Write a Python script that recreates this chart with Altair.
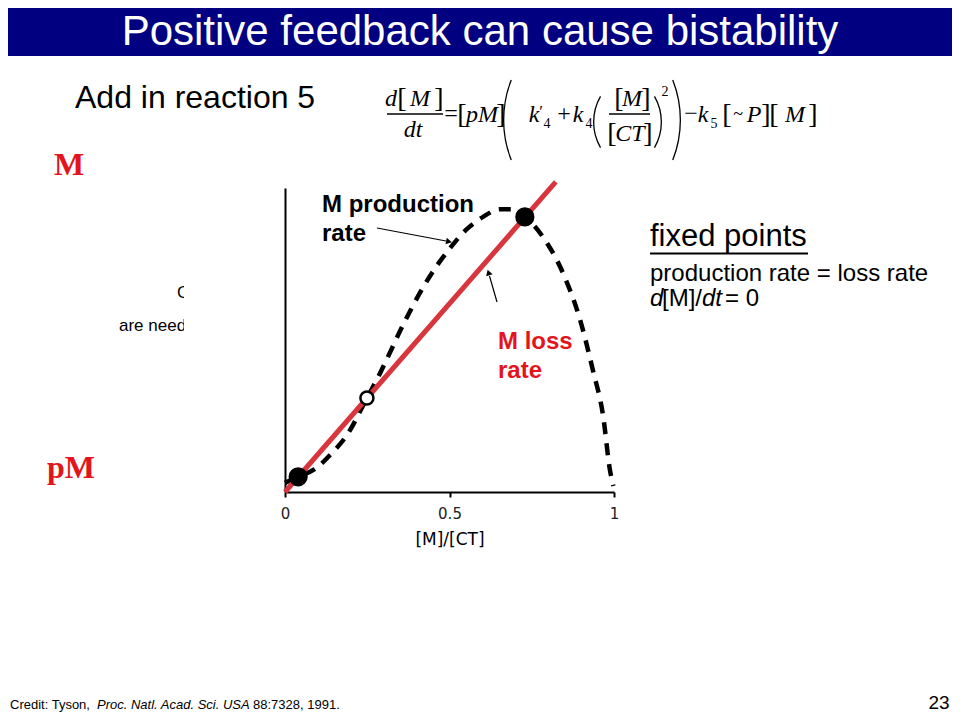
import math
import altair as alt
import pandas as pd

# ---------------- data ----------------
# M production rate (dashed curve), x = [M]/[CT]
prod_x = [0.0, 0.04, 0.09, 0.14, 0.19, 0.249, 0.289, 0.359, 0.41, 0.462, 0.5,
          0.55, 0.602, 0.653, 0.69, 0.729, 0.784, 0.845, 0.897, 0.936, 0.967,
          0.988, 0.998]
prod_y = [0.03, 0.05, 0.075, 0.125, 0.19, 0.309, 0.391, 0.55, 0.655, 0.745, 0.80,
          0.862, 0.905, 0.93, 0.93, 0.905, 0.839, 0.72, 0.566, 0.40, 0.25,
          0.07, 0.02]
# M loss rate (red straight line)
loss_x = [0.0, 0.823]
loss_y = [0.0, 1.02]
# fixed points
fp_x = [0.04, 0.249, 0.729]
fp_y = [0.05, 0.309, 0.905]
fp_kind = ["stable", "unstable", "stable"]
x_ticks = [0, 0.5, 1]

# ---------------- layout ----------------
W, H = 329, 304
OX, OY = 285, 188            # page position of the plot origin
PAD_L, PAD_T = OX - 8, OY - 8
TOTAL_W, TOTAL_H = 944, 705
RED_TXT = "#e3141b"
RED_LINE = "#d8353d"
one = pd.DataFrame({"k": [0]})


def txt(text, px, py, size, color="black", font="Liberation Sans", weight="normal",
        style="normal", align="left", baseline="alphabetic"):
    return alt.Chart(one).mark_text(
        text=text, fontSize=size, font=font, fontWeight=weight, fontStyle=style,
        color=color, align=align, baseline=baseline
    ).encode(x=alt.value(px - OX), y=alt.value(py - OY))


def hline(x1, x2, y, width=1.5, color="black"):
    return alt.Chart(one).mark_rule(color=color, strokeWidth=width).encode(
        x=alt.value(x1 - OX), x2=alt.value(x2 - OX), y=alt.value(y - OY))


def seg(x1, y1, x2, y2, width=1.2, color="black"):
    return alt.Chart(one).mark_rule(color=color, strokeWidth=width).encode(
        x=alt.value(x1 - OX), x2=alt.value(x2 - OX),
        y=alt.value(y1 - OY), y2=alt.value(y2 - OY))


def head(px, py, shape, angle, size=45):
    return alt.Chart(one).mark_point(shape=shape, filled=True, size=size, angle=angle,
                                     color="black", opacity=1).encode(
        x=alt.value(px - OX), y=alt.value(py - OY))


def rect(x1, y1, x2, y2, color):
    return alt.Chart(one).mark_rect(color=color).encode(
        x=alt.value(x1 - OX), x2=alt.value(x2 - OX),
        y=alt.value(y1 - OY), y2=alt.value(y2 - OY))


def paren(cx, cy, r, a1, a2, w=1.5):
    return alt.Chart(one).mark_arc(radius=r, radius2=r - w,
                                   theta=math.radians(a1), theta2=math.radians(a2),
                                   color="black").encode(
        x=alt.value(cx - OX), y=alt.value(cy - OY))


# ---------------- chart layers ----------------
df_prod = pd.DataFrame({"x": prod_x, "y": prod_y})
df_loss = pd.DataFrame({"x": loss_x, "y": loss_y})
df_fp = pd.DataFrame({"x": fp_x, "y": fp_y, "kind": fp_kind})

xscale = alt.Scale(domain=[0, 1], nice=False, zero=False)
yscale = alt.Scale(domain=[0, 1], nice=False)
xaxis = alt.Axis(values=x_ticks, format="~g", labelFont="DejaVu Sans", labelFontSize=15,
                 labelColor="#222222", labelFlush=False, labelPadding=9, tickSize=5,
                 tickWidth=2, tickColor="black", domainColor="black", domainWidth=2,
                 grid=False, title="[M]/[CT]", titleFont="DejaVu Sans", titleFontSize=17,
                 titleFontWeight="normal", titleColor="black", titlePadding=10)
yaxis = alt.Axis(labels=False, ticks=False, grid=False, title=None,
                 domainColor="black", domainWidth=2)

X = alt.X("x:Q", scale=xscale, axis=xaxis)
Y = alt.Y("y:Q", scale=yscale, axis=yaxis)

prod = alt.Chart(df_prod).mark_line(
    color="black", strokeWidth=4.5, strokeDash=[12, 9], interpolate="monotone", clip=False
).encode(x=X, y=Y)

loss = alt.Chart(df_loss).mark_line(color=RED_LINE, strokeWidth=5, clip=False).encode(x=X, y=Y)

fixed = alt.Chart(df_fp).mark_point(shape="circle", filled=True, stroke="black",
                                    strokeWidth=2.5, opacity=1, clip=False).encode(
    x=X, y=Y,
    fill=alt.Fill("kind:N", scale=alt.Scale(domain=["stable", "unstable"],
                                            range=["black", "white"]), legend=None),
    size=alt.Size("kind:N", scale=alt.Scale(domain=["stable", "unstable"],
                                            range=[280, 170]), legend=None),
)

layers = [prod, loss, fixed]

# annotations inside the chart
layers += [
    txt("M production", 322, 212, 24, weight="bold"),
    txt("rate", 322, 241, 24, weight="bold"),
    seg(377, 228, 446, 241), head(449, 241.6, "triangle-right", 11),
    txt("M loss", 498, 349, 24, weight="bold", color=RED_TXT),
    txt("rate", 498, 378, 24, weight="bold", color=RED_TXT),
    seg(497, 302, 489.5, 276), head(488.5, 272.5, "triangle-up", 343),
]

# slide title bar
layers += [
    rect(8, 8, 952, 56, "#000080"),
    txt("Positive feedback can cause bistability", 480, 45, 42, color="white", align="center"),
]

# slide body text
layers += [
    txt("Add in reaction 5", 75, 108, 32),
    txt("M", 69, 175, 32, color=RED_TXT, font="Liberation Serif", weight="bold", align="center"),
    txt("pM", 71, 478, 32, color=RED_TXT, font="Liberation Serif", weight="bold", align="center"),
    txt("C", 177, 298, 17),
    txt("are need", 119, 331, 17),
    rect(184, 276, 283, 342, "white"),
    txt("fixed points", 650, 246, 31),
    hline(650, 808, 253.5, width=2),
    txt("production rate = loss rate", 650, 281, 24),
    txt("d", 650, 306, 24, style="italic"),
    txt("[M]/", 662, 306, 24),
    txt("dt", 702, 306, 24, style="italic"),
    txt("= 0", 725, 306, 24),
    txt("Credit: Tyson,", 10, 709, 13),
    txt("Proc. Natl. Acad. Sci. USA", 97, 709, 13, style="italic"),
    txt("88:7328, 1991.", 253, 709, 13),
    txt("23", 939, 709, 19, align="center"),
]

# equation  d[M]/dt = [pM]( k'4 + k4 ([M]/[CT])^2 ) - k5[~P][M]
SER = "Liberation Serif"
LS, BS = 24, 28   # letter size, bracket size
eq = [
    # left fraction
    ("d", 391, 106, LS, "italic"), ("[", 402, 107, BS, "normal"),
    ("M", 420, 106, LS, "italic"), ("]", 439, 107, BS, "normal"),
    ("dt", 413, 137, LS, "italic"),
    ("=", 451, 121, LS, "normal"),
    ("[", 462, 123, BS, "normal"), ("pM", 482, 122, LS, "italic"), ("]", 501, 123, BS, "normal"),
    ("k", 534, 122, LS, "italic"), ("\u2032", 541, 117, 17, "normal"), ("4", 547, 128, 14, "normal"),
    ("+", 564, 121, LS, "normal"),
    ("k", 578, 122, LS, "italic"), ("4", 589, 128, 14, "normal"),
    ("[", 619, 107, BS, "normal"), ("M", 632, 106, LS, "italic"), ("]", 646, 107, BS, "normal"),
    ("[", 612, 142, BS, "normal"), ("CT", 630, 141, LS, "italic"), ("]", 648, 142, BS, "normal"),
    ("2", 665, 96, 14, "normal"),
    ("\u2212", 691, 121, LS, "normal"),
    ("k", 703, 122, LS, "italic"), ("5", 714, 128, 14, "normal"),
    ("[", 727, 123, BS, "normal"), ("~", 738, 120, 18, "normal"),
    ("P", 754, 122, LS, "italic"), ("]", 766, 123, BS, "normal"),
    ("[", 774, 123, BS, "normal"), ("M", 795, 122, LS, "italic"), ("]", 813, 123, BS, "normal"),
]
for t, cx, by, sz, st in eq:
    layers.append(txt(t, cx, by, sz, font=SER, style=st, align="center"))
layers += [
    hline(387, 443, 114, width=1.3),
    hline(609, 650, 114, width=1.3),
    paren(613, 120, 110, 248.5, 291.5, 1.3),
    paren(571, 120, 110, 68.5, 111.5, 1.3),
    paren(645, 122, 52, 240, 300, 1.3),
    paren(610, 122, 52, 60, 120, 1.3),
]

chart = alt.layer(*layers).properties(
    width=W, height=H,
    autosize=alt.AutoSizeParams(type="none"),
    padding={"left": PAD_L, "top": PAD_T,
             "right": TOTAL_W - PAD_L - W, "bottom": TOTAL_H - PAD_T - H},
    background="white",
).configure_view(stroke=None)

chart.save("out.html", embed_options={"renderer": "svg", "actions": False})
